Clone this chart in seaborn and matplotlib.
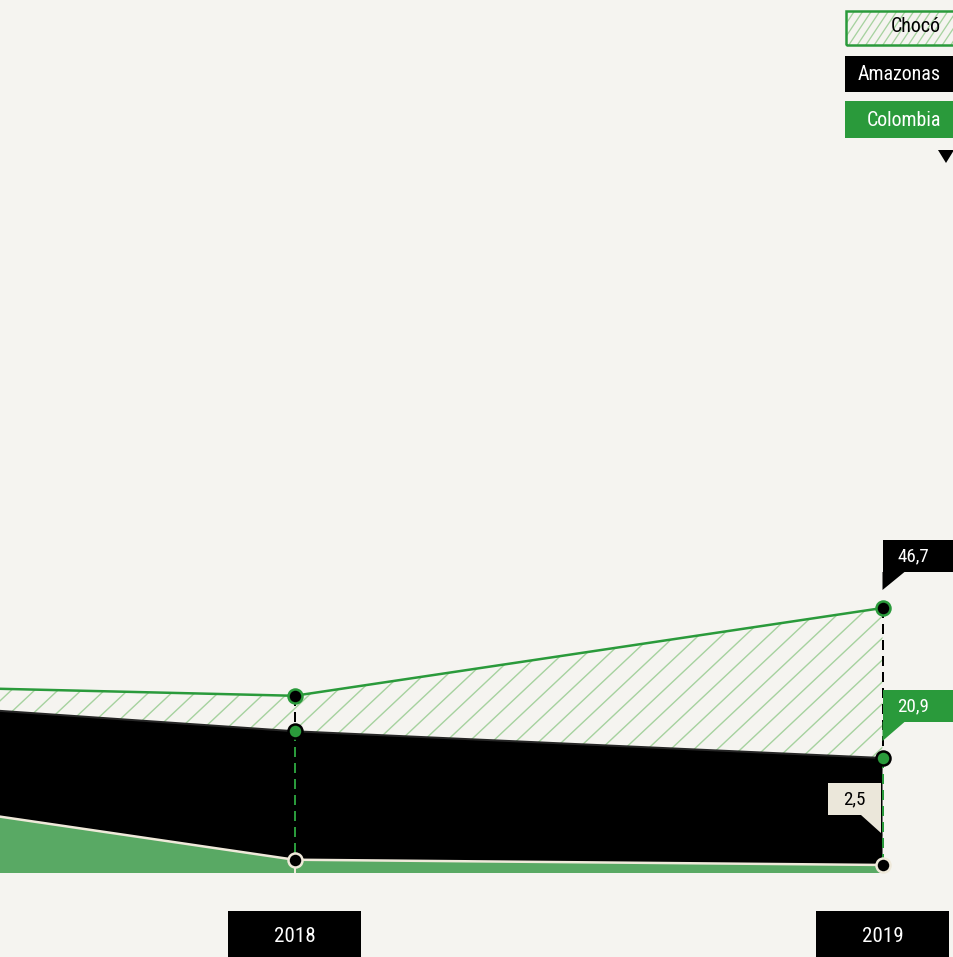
import numpy as np
import pandas as pd
import matplotlib
matplotlib.use('Agg')
import matplotlib.pyplot as plt
import seaborn as sns
from matplotlib.patches import Rectangle, Polygon
from matplotlib.collections import LineCollection
from matplotlib.transforms import IdentityTransform
from matplotlib import font_manager

# ---------------- data ----------------
years = [2017, 2018, 2019]
choco = [34.0, 31.6, 46.7]
amazonas = [32.5, 25.5, 20.9]
colombia = [18.2, 3.4, 2.5]
series_names = ['Chocó', 'Amazonas', 'Colombia']
year_labels = ['2018', '2019']
value_labels = ['46,7', '20,9', '2,5']

# ---------------- style ----------------
DPI = 138
W, H = 953, 957
PT = 72.0 / DPI  # points per pixel

sns.set_theme(style='white')
avail = {f.name for f in font_manager.fontManager.ttflist}
fam = [f for f in ['Liberation Sans Narrow', 'Roboto Condensed', 'Open Sans Condensed'] if f in avail]
plt.rcParams['font.family'] = fam + ['Roboto', 'DejaVu Sans']

BG = '#f5f4f0'
GREEN = '#2a9a3b'
GREEN_AREA = '#59a964'
HATCH = '#a6d29f'
CREAM = '#efe9da'
CREAM_BOX = '#ebe7da'

fig = plt.figure(figsize=(W / DPI, H / DPI), dpi=DPI, facecolor=BG)
ax = fig.add_axes([0, (H - 873) / H, 1, 873 / H])
ax.set_facecolor(BG)
for s in ax.spines.values():
    s.set_visible(False)
ax.set_xticks([])
ax.set_yticks([])

px_per_year = 588.0
x2018 = 294.5
ax.set_xlim(2018 - x2018 / px_per_year, 2018 + (W - x2018) / px_per_year)
px_per_unit = 5.814
zero_px = 879.5
ylo = (zero_px - 873) / px_per_unit
ax.set_ylim(ylo, zero_px / px_per_unit)


def hatch_lines(container, x0, x1, y0, y1, spacing, slope, color, lw, clip_path, clip_trans=None, z=1):
    """Diagonal hatch lines in display coords, clipped to a path."""
    span = (y1 - y0) / slope
    starts = np.arange(x0 - span - spacing, x1 + spacing, spacing)
    segs = [[(s, y0), (s + span, y1)] for s in starts]
    lc = LineCollection(segs, colors=color, linewidths=lw, transform=IdentityTransform(), zorder=z)
    if hasattr(container, 'add_collection'):
        container.add_collection(lc, autolim=False)
    else:
        container.add_artist(lc)
    if clip_trans is None:
        lc.set_clip_path(clip_path)
    else:
        lc.set_clip_path(clip_path, clip_trans)
    return lc


# ---------------- areas ----------------
choco_area = ax.fill_between(years, choco, 0, facecolor='none', linewidth=0, zorder=1)
hatch_lines(ax, 0, W, 0, H, 23.3, 0.94, HATCH, 1.4 * PT,
            choco_area.get_paths()[0], ax.transData, z=1)
ax.fill_between(years, amazonas, 0, color='black', linewidth=0, zorder=2)
ax.fill_between(years, colombia, 0, color=GREEN_AREA, linewidth=0, zorder=3)

sns.lineplot(x=years, y=amazonas, color='#262626', linewidth=2 * PT, ax=ax, zorder=2.5, legend=False)
sns.lineplot(x=years, y=colombia, color=CREAM, linewidth=2.5 * PT, ax=ax, zorder=3.5, legend=False)
sns.lineplot(x=years, y=choco, color=GREEN, linewidth=2.5 * PT, ax=ax, zorder=4, legend=False)

# ---------------- vertical guides ----------------
for i in (1, 2):
    yr = years[i]
    ax.plot([yr, yr], [choco[i], amazonas[i]], color='black', linewidth=2 * PT,
            dashes=(5, 3), zorder=4.5)
    ax.plot([yr, yr], [amazonas[i], colombia[i]], color=GREEN, linewidth=2 * PT,
            dashes=(5, 3), zorder=4.5)
ax.plot([years[1], years[1]], [colombia[1], ylo], color=CREAM, linewidth=2 * PT, zorder=3.6)

# ---------------- points ----------------
ms = (14 * PT) ** 2
ew = 2.5 * PT
sns.scatterplot(x=years, y=choco, s=ms, color='black', edgecolor=GREEN, linewidth=ew, ax=ax, zorder=6, legend=False)
sns.scatterplot(x=years, y=amazonas, s=ms, color=GREEN, edgecolor='black', linewidth=ew, ax=ax, zorder=6, legend=False)
sns.scatterplot(x=years, y=colombia, s=ms, color='black', edgecolor=CREAM, linewidth=ew, ax=ax, zorder=6, legend=False)


# ---------------- helpers in pixel space (top-left origin) ----------------
def P(x, y):
    return (x, H - y)


def rect(x0, y0, x1, y1, **kw):
    r = Rectangle(P(x0, y1), x1 - x0, y1 - y0, transform=IdentityTransform(), figure=fig, **kw)
    fig.patches.append(r)
    return r


def poly(pts, **kw):
    fig.patches.append(Polygon([P(*p) for p in pts], closed=True, transform=IdentityTransform(), figure=fig, **kw))


def txt(x, y, s, **kw):
    fig.text(x / W, 1 - y / H, s, **kw)


def data_px(x, y):
    dx, dy = ax.transData.transform((x, y))
    return dx, H - dy


# ---------------- value labels at last point ----------------
fs_val = 19 * PT
cx, cy = data_px(years[2], choco[2])
rect(cx, cy - 68, W + 5, cy - 36, facecolor='black', edgecolor='none', zorder=10)
poly([(cx, cy - 36), (cx + 22, cy - 36), (cx, cy - 18)], facecolor='black', edgecolor='none', zorder=10)
txt(cx + 15, cy - 52, value_labels[0], color='white', fontsize=fs_val, ha='left', va='center', zorder=11)

cx, cy = data_px(years[2], amazonas[2])
rect(cx, cy - 68, W + 5, cy - 36, facecolor=GREEN, edgecolor='none', zorder=10)
poly([(cx, cy - 36), (cx + 22, cy - 36), (cx, cy - 17)], facecolor=GREEN, edgecolor='none', zorder=10)
txt(cx + 15, cy - 52, value_labels[1], color='white', fontsize=fs_val, ha='left', va='center', zorder=11)

cx, cy = data_px(years[2], colombia[2])
rect(cx - 55, cy - 82, cx - 2, cy - 50, facecolor=CREAM_BOX, edgecolor='none', zorder=10)
poly([(cx - 22, cy - 50), (cx - 2, cy - 50), (cx - 2, cy - 32)], facecolor=CREAM_BOX, edgecolor='none', zorder=10)
txt(cx - 28, cy - 66, value_labels[2], color='black', fontsize=fs_val, ha='center', va='center', zorder=11)

# ---------------- year labels ----------------
fs_year = 21 * PT
for yr, lab in zip(years[1:], year_labels):
    cx, _ = data_px(yr, 0)
    rect(cx - 66.5, 911, cx + 66.5, H + 5, facecolor='black', edgecolor='none', zorder=10)
    txt(cx, 936, lab, color='white', fontsize=fs_year, ha='center', va='center', zorder=11)

# ---------------- legend ----------------
fs_leg = 20 * PT
clip_box = Rectangle(P(846, 45), W + 5 - 846, 34, transform=IdentityTransform())
hatch_lines(fig, 846, W, H - 45, H - 11, 8.5, 1.5, HATCH, 1.3 * PT, clip_box, z=10)
rect(846, 11, W + 5, 45, facecolor='none', edgecolor=GREEN, linewidth=2.5 * PT, zorder=10.5)
txt(941, 27, series_names[0], color='black', fontsize=fs_leg, ha='right', va='center', zorder=11)
rect(845, 56, W + 5, 92, facecolor='black', edgecolor='none', zorder=10)
txt(941, 74, series_names[1], color='white', fontsize=fs_leg, ha='right', va='center', zorder=11)
rect(845, 101, W + 5, 138, facecolor=GREEN, edgecolor='none', zorder=10)
txt(941, 120, series_names[2], color='white', fontsize=fs_leg, ha='right', va='center', zorder=11)
poly([(938, 150), (954, 150), (946, 163)], facecolor='black', edgecolor='none', zorder=10)

fig.savefig('out.png', dpi=DPI, facecolor=BG)
